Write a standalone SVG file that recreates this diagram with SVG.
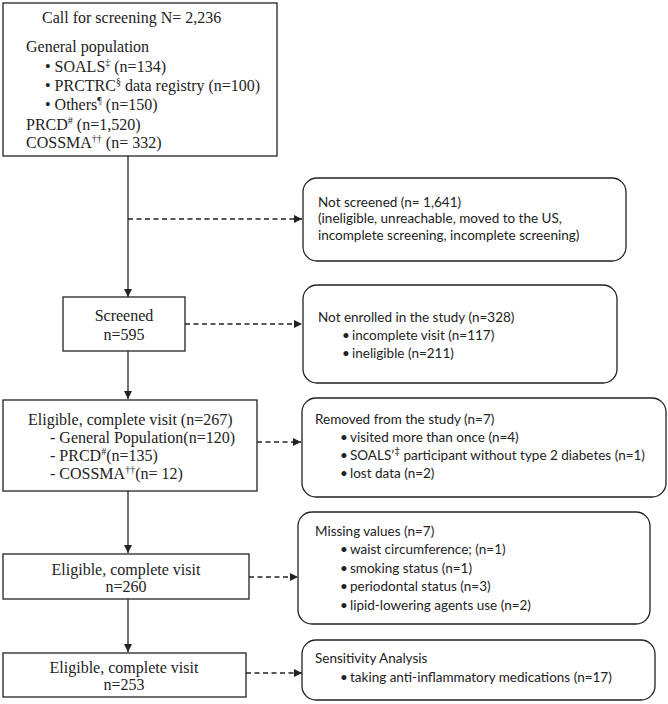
<svg xmlns="http://www.w3.org/2000/svg" width="668" height="704" viewBox="0 0 668 704">
<defs>
<style>
.box{fill:#fff;stroke:#222;stroke-width:1.3}
.rbox{fill:#fff;stroke:#222;stroke-width:1.3}
.serif{font-family:"Liberation Serif","Times New Roman",serif;font-size:16px;fill:#222}
.sans{font-family:Lato,"Liberation Sans",sans-serif;font-size:13.5px;fill:#222}
.sup{font-size:10px}
.solid{stroke:#222;stroke-width:1.3;fill:none}
.dash{stroke:#222;stroke-width:1.3;fill:none;stroke-dasharray:5 3.5}
</style>
<marker id="ah" viewBox="0 0 10 10" refX="10" refY="5" markerWidth="8" markerHeight="8" markerUnits="userSpaceOnUse" orient="auto">
<path d="M0,0 L10,5 L0,10 Z" fill="#222"/>
</marker>
</defs>
<rect width="668" height="704" fill="#fff"/>

<g id="connectors">
<line class="solid" x1="128" y1="156" x2="128" y2="297" marker-end="url(#ah)"/>
<line class="dash" x1="128" y1="219" x2="302" y2="219" marker-end="url(#ah)"/>
<line class="dash" x1="185" y1="324" x2="302" y2="324" marker-end="url(#ah)"/>
<line class="solid" x1="128" y1="351" x2="128" y2="399" marker-end="url(#ah)"/>
<line class="dash" x1="257" y1="442" x2="301" y2="442" marker-end="url(#ah)"/>
<line class="solid" x1="128" y1="491" x2="128" y2="553" marker-end="url(#ah)"/>
<line class="dash" x1="249" y1="577" x2="298" y2="577" marker-end="url(#ah)"/>
<line class="solid" x1="128" y1="599" x2="128" y2="652" marker-end="url(#ah)"/>
<line class="dash" x1="246" y1="673" x2="302" y2="673" marker-end="url(#ah)"/>
</g>

<g id="call">
<rect class="box" x="3" y="3" width="274" height="153"/>
<text class="serif" x="42" y="23">Call for screening N= 2,236</text>
<text class="serif" x="26" y="52">General population</text>
<text class="serif" x="45" y="72">• SOALS<tspan class="sup" dy="-6">‡</tspan><tspan dy="6"> (n=134)</tspan></text>
<text class="serif" x="45" y="91">• PRCTRC<tspan class="sup" dy="-6">§</tspan><tspan dy="6"> data registry (n=100)</tspan></text>
<text class="serif" x="45" y="110">• Others<tspan class="sup" dy="-6">¶</tspan><tspan dy="6"> (n=150)</tspan></text>
<text class="serif" x="26" y="130">PRCD<tspan class="sup" dy="-6">#</tspan><tspan dy="6"> (n=1,520)</tspan></text>
<text class="serif" x="26" y="148">COSSMA<tspan class="sup" dy="-6">††</tspan><tspan dy="6"> (n= 332)</tspan></text>
</g>

<g id="notscreened">
<rect class="rbox" x="303" y="178" width="323" height="83" rx="14"/>
<text class="sans" x="318" y="207">Not screened (n= 1,641)</text>
<text class="sans" x="318" y="223">(ineligible, unreachable, moved to the US,</text>
<text class="sans" x="318" y="240">incomplete screening, incomplete screening)</text>
</g>

<g id="screened">
<rect class="box" x="63" y="297" width="122" height="54"/>
<text class="serif" x="124" y="321" text-anchor="middle">Screened</text>
<text class="serif" x="124" y="340" text-anchor="middle">n=595</text>
</g>

<g id="notenrolled">
<rect class="rbox" x="303" y="285" width="314" height="98" rx="14"/>
<text class="sans" x="318" y="322">Not enrolled in the study (n=328)</text>
<text class="sans" x="342" y="340">•</text><text class="sans" x="352" y="340">incomplete visit (n=117)</text>
<text class="sans" x="342" y="358">•</text><text class="sans" x="352" y="358">ineligible (n=211)</text>
</g>

<g id="eligible267">
<rect class="box" x="3" y="400" width="254" height="91"/>
<text class="serif" x="28" y="425">Eligible, complete visit (n=267)</text>
<text class="serif" x="50" y="443">-  General Population(n=120)</text>
<text class="serif" x="50" y="461">-  PRCD<tspan class="sup" dy="-6">#</tspan><tspan dy="6">(n=135)</tspan></text>
<text class="serif" x="50" y="479">-  COSSMA<tspan class="sup" dy="-6">††</tspan><tspan dy="6">(n= 12)</tspan></text>
</g>

<g id="removed">
<rect class="rbox" x="302" y="398" width="364" height="99" rx="14"/>
<text class="sans" x="315" y="424">Removed from the study (n=7)</text>
<text class="sans" x="340" y="442">•</text><text class="sans" x="350" y="442">visited more than once (n=4)</text>
<text class="sans" x="340" y="460">•</text><text class="sans" x="350" y="460">SOALS’<tspan class="sup" dy="-6">‡</tspan><tspan dy="6"> participant without type 2 diabetes (n=1)</tspan></text>
<text class="sans" x="340" y="478">•</text><text class="sans" x="350" y="478">lost data (n=2)</text>
</g>

<g id="eligible260">
<rect class="box" x="3" y="554" width="246" height="45"/>
<text class="serif" x="126" y="575" text-anchor="middle">Eligible, complete visit</text>
<text class="serif" x="126" y="592" text-anchor="middle">n=260</text>
</g>

<g id="missing">
<rect class="rbox" x="298" y="512" width="352" height="112" rx="14"/>
<text class="sans" x="315" y="536">Missing values (n=7)</text>
<text class="sans" x="340" y="554">•</text><text class="sans" x="350" y="554">waist circumference; (n=1)</text>
<text class="sans" x="340" y="573">•</text><text class="sans" x="350" y="573">smoking status (n=1)</text>
<text class="sans" x="340" y="591">•</text><text class="sans" x="350" y="591">periodontal status (n=3)</text>
<text class="sans" x="340" y="610">•</text><text class="sans" x="350" y="610">lipid-lowering agents use (n=2)</text>
</g>

<g id="eligible253">
<rect class="box" x="3" y="653" width="243" height="44"/>
<text class="serif" x="124" y="673" text-anchor="middle">Eligible, complete visit</text>
<text class="serif" x="124" y="690" text-anchor="middle">n=253</text>
</g>

<g id="sensitivity">
<rect class="rbox" x="302" y="640" width="353" height="60" rx="14"/>
<text class="sans" x="315" y="663">Sensitivity Analysis</text>
<text class="sans" x="340" y="682">•</text><text class="sans" x="350" y="682">taking anti-inflammatory medications (n=17)</text>
</g>
</svg>
